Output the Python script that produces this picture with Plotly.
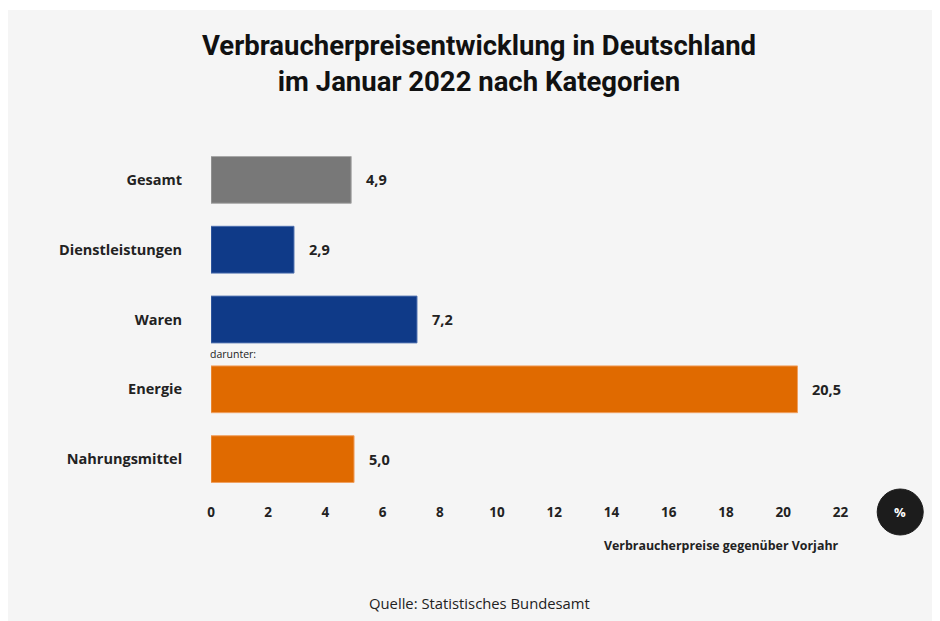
import plotly.graph_objects as go

categories = ["Gesamt", "Dienstleistungen", "Waren", "Energie", "Nahrungsmittel"]
values = [4.9, 2.9, 7.2, 20.5, 5.0]
bar_colors = ["#787878", "#0f3a88", "#0f3a88", "#e06a00", "#e06a00"]
line_colors = ["#a8a8a8", "#4d6fae", "#4d6fae", "#f0a060", "#f0a060"]
tick_values = list(range(0, 23, 2))
tick_labels = [f"<b>{v}</b>" for v in tick_values]

W, H = 940, 621
OFF = 8  # page body margin
L, T = 211 - OFF, 145 - OFF
B = H - (494 - OFF)
X_MAX = 23
UNIT = 28.6
R = W - L - X_MAX * UNIT
BG = "#f5f5f5"

fig = go.Figure()
fig.add_trace(go.Bar(
    x=values, y=categories, orientation="h",
    marker=dict(color=bar_colors, line=dict(color=line_colors, width=1)),
    width=0.67, hoverinfo="skip",
))

for c, v in zip(categories, values):
    fig.add_annotation(x=v, y=c, xref="x", yref="y", text=f"<b>{v:.1f}</b>".replace(".", ","),
                       showarrow=False, xanchor="left", yanchor="middle", xshift=13,
                       font=dict(family="Open Sans", size=14.5, color="#222222"))

fig.add_annotation(x=0, y=2.5, xref="x", yref="y", text="darunter:", showarrow=False,
                   xanchor="left", yanchor="middle", xshift=-3,
                   font=dict(family="Open Sans", size=10.5, color="#222222"))

pw = W - L - R
ph = H - T - B
def px(x):
    return (x - OFF - L) / pw
def py(y):
    return (H - B - (y - OFF)) / ph

fig.add_annotation(x=px(841), y=py(545), xref="paper", yref="paper",
                   text="<b>Verbraucherpreise gegenüber Vorjahr</b>", showarrow=False,
                   xanchor="right", yanchor="middle",
                   font=dict(family="Open Sans", size=12.4, color="#222222"))
fig.add_annotation(x=px(479), y=py(603), xref="paper", yref="paper",
                   text="Quelle: Statistisches Bundesamt", showarrow=False,
                   xanchor="center", yanchor="middle",
                   font=dict(family="Open Sans", size=14.8, color="#222222"))

# background panel
fig.add_shape(type="rect", xref="paper", yref="paper", layer="below",
              x0=px(7), x1=px(933), y0=py(10), y1=py(640),
              fillcolor=BG, line=dict(width=0))
# % circle
fig.add_shape(type="circle", xref="paper", yref="paper",
              x0=px(877), x1=px(923), y0=py(489), y1=py(535),
              fillcolor="#1c1c1c", line=dict(color="#1c1c1c", width=1))
fig.add_annotation(x=px(900), y=py(512), xref="paper", yref="paper", text="<b>%</b>",
                   showarrow=False, xanchor="center", yanchor="middle",
                   font=dict(family="Open Sans", size=13, color="#ffffff"))

fig.update_layout(
    width=W, height=H,
    margin=dict(l=L, r=R, t=T, b=B, autoexpand=False),
    paper_bgcolor="#ffffff", plot_bgcolor="rgba(0,0,0,0)",
    separators=",.",
    showlegend=False,
    title=dict(text="<b>Verbraucherpreisentwicklung in Deutschland<br>im Januar 2022 nach Kategorien</b>",
               x=(479 - OFF) / W, xanchor="center", xref="container",
               y=1 - 47 / H, yanchor="top", yref="container",
               font=dict(family="Roboto", size=27.5, color="#111111")),
    xaxis=dict(range=[0, X_MAX], tickvals=tick_values, ticktext=tick_labels,
               showgrid=False, zeroline=False,
               showline=False, ticks="outside", ticklen=6, tickcolor="rgba(0,0,0,0)",
               tickfont=dict(family="Open Sans", size=13.5, color="#222222", weight="bold"),
               fixedrange=True),
    yaxis=dict(autorange="reversed", showgrid=False, zeroline=False, showline=False,
               ticks="outside", ticklen=25, tickcolor="rgba(0,0,0,0)",
               tickfont=dict(family="Open Sans", size=14.5, color="#222222", weight="bold"),
               fixedrange=True),
)

fig.write_html("out.html")
